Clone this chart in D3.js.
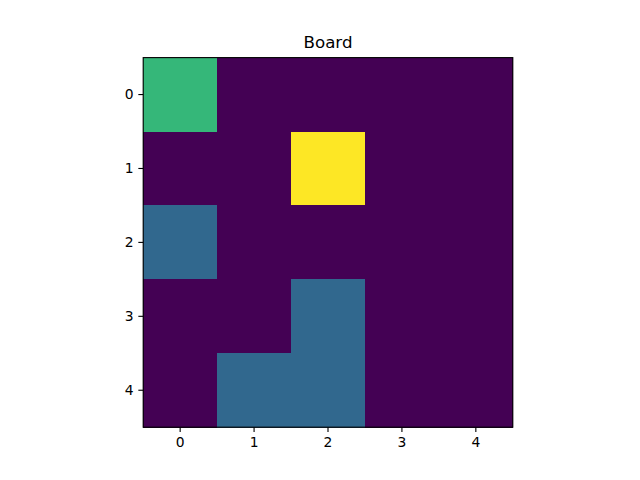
<!DOCTYPE html>
<html lang="en">
<head>
<meta charset="UTF-8" />
<title>Board</title>
<script src="https://d3js.org/d3.v7.min.js"></script>
<style>
  html, body { margin: 0; padding: 0; background: #fff; }
  svg { display: block; font-family: "DejaVu Sans", sans-serif; }
</style>
</head>
<body>
<svg width="640" height="480"></svg>
<script>
// board values, row by row (top row first)
const rows = [0, 1, 2, 3, 4];
const cols = [0, 1, 2, 3, 4];
const board = [
  [2, 0, 0, 0, 0],
  [0, 0, 3, 0, 0],
  [1, 0, 0, 0, 0],
  [0, 0, 1, 0, 0],
  [0, 1, 1, 0, 0]
];
const title = "Board";

const svg = d3.select("svg");

// matplotlib default axes box, made square (imshow aspect equal)
const size = 369.6;
const plotLeft = 328 - size / 2, plotTop = 57.6;
const pt = 100 / 72; // points to pixels at 100 dpi

const x = d3.scaleBand().domain(cols).range([plotLeft, plotLeft + size]);
const y = d3.scaleBand().domain(rows).range([plotTop, plotTop + size]);

const vmin = d3.min(board.flat()), vmax = d3.max(board.flat());
const color = d3.scaleSequential(d3.interpolateViridis).domain([vmin, vmax]);

const cells = [];
board.forEach((row, r) => row.forEach((v, c) => cells.push({ r, c, v })));

svg.append("g")
  .selectAll("rect")
  .data(cells)
  .join("rect")
  .attr("x", d => x(d.c))
  .attr("y", d => y(d.r))
  .attr("width", x.bandwidth() + 0.5)
  .attr("height", y.bandwidth() + 0.5)
  .attr("fill", d => color(d.v))
  .attr("shape-rendering", "crispEdges");

// frame
svg.append("rect")
  .attr("x", plotLeft).attr("y", plotTop)
  .attr("width", size).attr("height", size)
  .attr("fill", "none").attr("stroke", "#000").attr("stroke-width", 0.8 * pt);

const xAxis = d3.axisBottom(x).tickSize(3.5 * pt).tickPadding(3.5 * pt);
const yAxis = d3.axisLeft(y).tickSize(3.5 * pt).tickPadding(3.5 * pt);

function styleAxis(g) {
  g.select(".domain").remove();
  g.attr("font-size", 10 * pt).attr("font-family", "DejaVu Sans");
  g.selectAll("line").attr("stroke-width", 0.8 * pt);
  g.selectAll("text").attr("fill", "#000");
}

svg.append("g")
  .attr("transform", `translate(0,${plotTop + size})`)
  .call(xAxis)
  .call(styleAxis);

svg.append("g")
  .attr("transform", `translate(${plotLeft},0)`)
  .call(yAxis)
  .call(styleAxis);

svg.append("text")
  .attr("x", plotLeft + size / 2)
  .attr("y", plotTop - 6 * pt - 1)
  .attr("text-anchor", "middle")
  .attr("font-size", 12 * pt)
  .attr("font-family", "DejaVu Sans")
  .attr("fill", "#000")
  .text(title);
</script>
</body>
</html>
